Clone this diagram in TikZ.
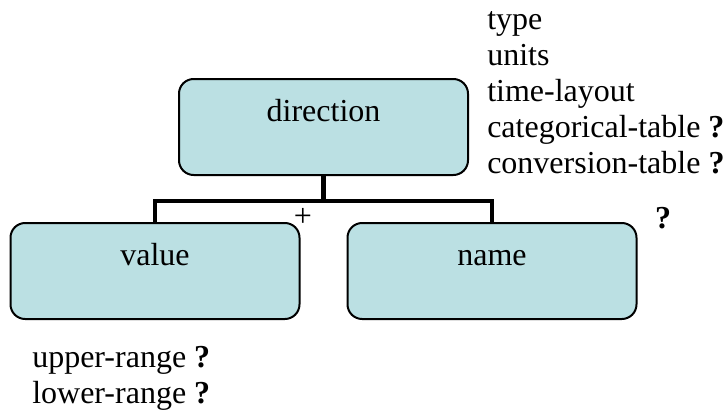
\documentclass[tikz,border=0pt]{standalone}
\usepackage{fontspec}
\setmainfont{Liberation Serif}
\usetikzlibrary{positioning}
\definecolor{boxfill}{RGB}{187,224,227}
\tikzset{
    elemnode/.style={
        rectangle,
        rounded corners=11pt,
        draw=black,
        fill=boxfill, % 浅青色填充
        line width=1.5pt,
        minimum width=216.75pt,
        text height=32pt, % 文字偏上
        text depth=40pt,
        inner ysep=0pt,
        font=\fontsize{24}{27}\selectfont
    },
    attrtext/.style={
        align=left,
        inner sep=0pt,
        font=\fontsize{24}{27}\selectfont
    }
}

\begin{document}
\begin{tikzpicture}[
                x=0.75pt, y=-0.75pt,
                level distance=108pt,
                sibling distance=252.75pt,
                edge from parent/.style={draw, line width=3.4pt},
                edge from parent path={(\tikzparentnode.south) -- ++(0,25) -| (\tikzchildnode.north)}
            ]
            \useasboundingbox (0,0) rectangle (728,411);
            % 元素树
            \node[elemnode] (direction) at (323.5,127) {direction}
                child { node[elemnode] (value) {value} }
                child { node[elemnode] (name) {name} };
            % 标记
            \node[font=\fontsize{24}{27}\selectfont] (plus) at (303,217) {+};
            \node[font=\fontsize{24}{27}\selectfont\bfseries, anchor=base] (opt) at (663,228) {?};
            % 属性（base 为最后一行基线）
            \node[attrtext, anchor=base west] (attrs) at (487,173) {type\\units\\time-layout\\categorical-table \textbf{?}\\conversion-table \textbf{?}};
            \node[attrtext, anchor=base west] (ranges) at (32,403) {upper-range \textbf{?}\\lower-range \textbf{?}};
\end{tikzpicture}
\end{document}
